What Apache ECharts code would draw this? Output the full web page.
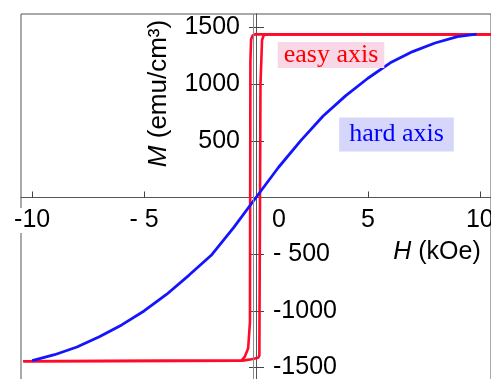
<!DOCTYPE html>
<html><head><meta charset="utf-8">
<script src="https://cdn.jsdelivr.net/npm/echarts@6/dist/echarts.min.js"></script>
<style>html,body{margin:0;padding:0;background:#fff}#c{width:491px;height:379px}</style>
</head><body><div id="c"></div>
<script>
// hard axis curve (H in kOe, M in emu/cm3)
const hardH = [-10.0,-9.0,-8.0,-7.0,-6.0,-5.0,-4.0,-3.0,-2.0,-1.0,0.0,1.0,2.0,3.0,4.0,5.0,6.0,7.0,8.0,9.0,9.85];
const hardM = [-1440,-1388,-1320,-1230,-1125,-1002,-856,-687,-510,-266,0,265,502,719,897,1053,1189,1288,1364,1421,1443];
// easy axis loop: descending branch
const easyDownH = [10.5,-0.05,-0.15,-0.22,-0.25,-0.27,-0.35,-0.5,-0.65,-10.4];
const easyDownM = [1440,1440,1430,1395,1200,-1100,-1330,-1405,-1440,-1445];
// easy axis loop: ascending branch
const easyUpH = [-10.4,-0.6,-0.2,0.1,0.15,0.2,0.27,0.35,0.6,10.5];
const easyUpM = [-1445,-1440,-1428,-1415,-1395,1000,1390,1435,1440,1440];
// ticks & labels
const xTicks = [-10,-5,0,5,10];
const xTickLabels = ['-10','- 5','0','5','10'];
const yTicks = [-1500,-1000,-500,500,1000,1500];
const yLeftTicks = [500,1000,1500];
const yLeftLabels = ['500','1000','1500'];
const yRightTicks = [-500,-1000,-1500];
const yRightLabels = ['- 500','-1000','-1500'];

const pair = (a,b) => a.map((v,i)=>[v,b[i]]);
const SANS = 'Liberation Sans';
const SERIF = 'Liberation Serif';
// grid geometry (pixels)
const G = {left:21, right:0, top:14, bottom:-2, W:491, H:379};
const gw = G.W - G.left - G.right, gh = G.H - G.top - G.bottom;
const xMin=-10.5, xMax=10.5, yMin=-1620, yMax=1620;
const zeroX = G.left + gw * (0 - xMin) / (xMax - xMin);
const zeroY = G.top + gh * (yMax - 0) / (yMax - yMin);
const offLeft = -(zeroX - G.left);
const offRight = -(G.W - G.right - zeroX);
const offBottom = -(G.H + (-G.bottom) - zeroY);

const chart = echarts.init(document.getElementById('c'));
chart.setOption({
  animation:false,
  backgroundColor:'#fff',
  grid:{left:G.left, right:G.right, top:G.top, bottom:G.bottom, show:true, borderColor:'#555', borderWidth:1,
        backgroundColor:'transparent', containLabel:false, outerBoundsMode:'none'},
  xAxis:{
    type:'value', min:xMin, max:xMax, z:1, position:'bottom', offset:offBottom,
    axisLine:{onZero:false, lineStyle:{color:'#555', width:1}},
    axisTick:{inside:true, length:6, customValues:[-10,-5,5,10], lineStyle:{color:'#444'}},
    splitLine:{show:false},
    axisLabel:{
      customValues:xTicks, margin:3, color:'#000', fontSize:25, fontFamily:SANS,
      formatter:(v)=>{
        const i = xTicks.indexOf(v); const t = i>=0 ? xTickLabels[i] : '';
        if (v===-10) return '{w|'+t+'}';
        if (v===0) return '{z|'+t+'}';
        return '{n|'+t+'}';
      },
      rich:{
        w:{fontSize:25, fontFamily:SANS, color:'#000', lineHeight:40, backgroundColor:'#fff', padding:[0,1]},
        z:{fontSize:25, fontFamily:SANS, color:'#000', lineHeight:40, padding:[0,0,0,46]},
        n:{fontSize:25, fontFamily:SANS, color:'#000', lineHeight:40}
      }
    }
  },
  yAxis:[
    {
      type:'value', min:yMin, max:yMax, position:'left', offset:offLeft,
      axisLine:{onZero:false, lineStyle:{color:'#555', width:1}},
      splitLine:{show:false},
      axisTick:{length:7, customValues:yTicks, lineStyle:{color:'#444'}},
      axisLabel:{customValues:yLeftTicks, margin:16, color:'#000', fontSize:25, fontFamily:SANS,
        formatter:(v)=>{const i=yLeftTicks.indexOf(v); return i>=0?yLeftLabels[i]:'';}}
    },
    {
      type:'value', min:yMin, max:yMax, position:'right', offset:offRight,
      axisLine:{onZero:false, lineStyle:{color:'#555', width:1}},
      splitLine:{show:false},
      axisTick:{length:8, customValues:yTicks, lineStyle:{color:'#444'}},
      axisLabel:{customValues:yRightTicks, margin:17, color:'#000', fontSize:25, fontFamily:SANS,
        formatter:(v)=>{const i=yRightTicks.indexOf(v); return i>=0?yRightLabels[i]:'';}}
    }
  ],
  series:[
    {type:'line', name:'easy down', data:pair(easyDownH,easyDownM), showSymbol:false, symbol:'none',
     lineStyle:{color:'#ff0a2a', width:2.6}, z:2,
     markLine:{silent:true, symbol:'none', label:{show:false}, animation:false,
       lineStyle:{color:'#8a8a8a', type:'solid', width:1}, data:[{xAxis:-0.12}]}},
    {type:'line', name:'easy up', data:pair(easyUpH,easyUpM), showSymbol:false, symbol:'none',
     lineStyle:{color:'#ff0a2a', width:2.6}, z:2},
    {type:'line', name:'hard', data:pair(hardH,hardM), showSymbol:false, symbol:'none',
     lineStyle:{color:'#1414ff', width:2.8}, z:3}
  ],
  graphic:[
    {type:'text', x:159, y:93.5, rotation:Math.PI/2,
     style:{text:'{i|M} (emu/cm³)', fontSize:26, fontFamily:SANS, fill:'#000', align:'center', verticalAlign:'middle',
       rich:{i:{fontStyle:'italic', fontSize:26, fontFamily:SANS, fill:'#000'}}}},
    {type:'text', x:437, y:252,
     style:{text:'{i|H} (kOe)', fontSize:25, fontFamily:SANS, fill:'#000', align:'center', verticalAlign:'middle',
       rich:{i:{fontStyle:'italic', fontSize:25, fontFamily:SANS, fill:'#000'}}}},
    {type:'text', x:331, y:55, z:10,
     style:{text:'easy axis', fontSize:26, fontFamily:SERIF, fill:'#ff0000', backgroundColor:'#f8d7e6',
       padding:[0,6], align:'center', verticalAlign:'middle'}},
    {type:'text', x:396.5, y:134.5, z:10,
     style:{text:'hard axis', fontSize:26, fontFamily:SERIF, fill:'#0000ff', backgroundColor:'#d6d6fb',
       padding:[4,10], align:'center', verticalAlign:'middle'}}
  ]
});
</script>
</body></html>
